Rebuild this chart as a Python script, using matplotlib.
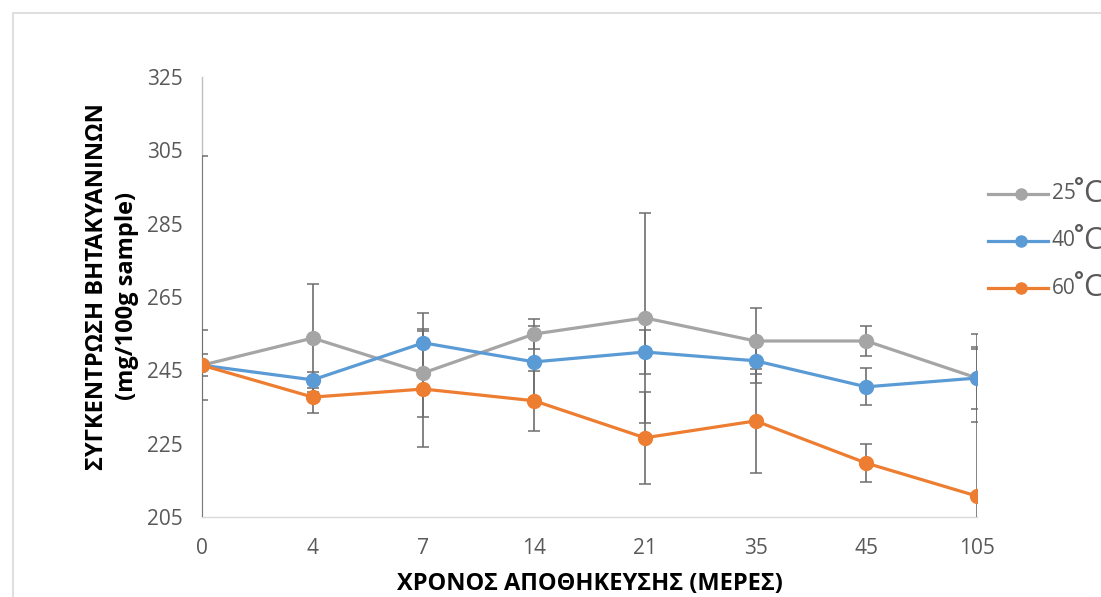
import matplotlib.pyplot as plt
from matplotlib.lines import Line2D
from matplotlib.patches import Rectangle

# storage days (categorical axis)
days = ['0', '4', '7', '14', '21', '35', '45', '105']

# betacyanin concentration, mg/100g sample
t25 = [246.4, 253.8, 244.3, 254.9, 259.3, 253.0, 253.0, 242.9]
t25_err = [3.0, 14.8, 12.0, 4.1, 28.7, 9.0, 4.1, 12.0]
t40 = [246.4, 242.4, 252.5, 247.3, 250.0, 247.6, 240.5, 242.9]
t40_err = [9.6, 2.2, 8.2, 9.8, 6.0, 6.0, 5.0, 8.5]
t60 = [246.4, 237.7, 239.9, 236.7, 226.6, 231.2, 219.7, 210.7]
t60_err = [57.0, 4.3, 15.8, 8.2, 12.5, 14.2, 5.2, 40.0]

temps = ['25', '40', '60']
colors = ['#A5A5A5', '#5B9BD5', '#ED7D31']

plt.rcParams['font.family'] = ['Open Sans', 'DejaVu Sans']

fig = plt.figure(figsize=(11.01, 5.97), dpi=100)
ax = fig.add_axes([202/1101, 1-517/597, (977-202)/1101, (517-77)/597])

x = range(len(days))
series = [(t25, t25_err), (t40, t40_err), (t60, t60_err)]

# error bars sit above the light spines but under the lines
for (y, e) in series:
  ax.errorbar(x, y, yerr=e, fmt='none', ecolor='#6E6E6E', elinewidth=1.2,
              capsize=4, capthick=1.1, zorder=2.6)

for (y, e), c in zip(series, colors):
  ax.plot(x, y, '-o', color=c, lw=2.3, ms=10, zorder=3)

ax.set_xlim(0, len(days)-1)
ax.set_ylim(205, 325)
ax.set_yticks(range(205, 326, 20))
ax.set_xticks(list(x))
ax.set_xticklabels(days)
ax.tick_params(length=0, labelsize=15, labelcolor='#595959')
ax.tick_params(axis='x', pad=15)
ax.tick_params(axis='y', pad=14)

for s in ['top', 'right']:
  ax.spines[s].set_visible(False)
ax.spines['left'].set_color('#BFBFBF')
ax.spines['bottom'].set_color('#D9D9D9')
ax.spines['left'].set_linewidth(1.0)
ax.spines['bottom'].set_linewidth(1.0)

fig.text(97/1101, 1-287/597, 'ΣΥΓΚΕΝΤΡΩΣΗ ΒΗΤΑΚΥΑΝΙΝΩΝ', rotation=90,
         ha='center', va='center', fontsize=17, fontweight='bold')
fig.text(127/1101, 1-296/597, '(mg/100g sample)', rotation=90,
         ha='center', va='center', fontsize=17, fontweight='bold')
fig.text(590/1101, 1-584/597, 'ΧΡΟΝΟΣ ΑΠΟΘΗΚΕΥΣΗΣ (ΜΕΡΕΣ)',
         ha='center', va='center', fontsize=17, fontweight='bold')

# legend drawn by hand: small number, raised degree sign, big C
for i, (t, c) in enumerate(zip(temps, colors)):
  yy = 1 - (194 + 47*i)/597
  fig.add_artist(Line2D([988/1101, 1048/1101], [yy, yy], color=c, lw=2.3))
  fig.add_artist(Line2D([1021/1101], [yy], marker='o', color=c, ms=8))
  fig.text(1052/1101, yy, t, ha='left', va='center', fontsize=15, color='#595959')
  fig.text(1074/1101, yy + 6/597, '°', ha='left', va='center', fontsize=17,
           fontweight='bold', color='#595959')
  fig.text(1083/1101, yy, 'C', ha='left', va='center', fontsize=22, color='#595959')

# chart area border
fig.add_artist(Rectangle((13/1101, -0.01), 1.0, 1 - 13/597 + 0.01,
                         transform=fig.transFigure, fill=False,
                         edgecolor='#D9D9D9', lw=1.2))

plt.savefig('out.png', dpi=100)
